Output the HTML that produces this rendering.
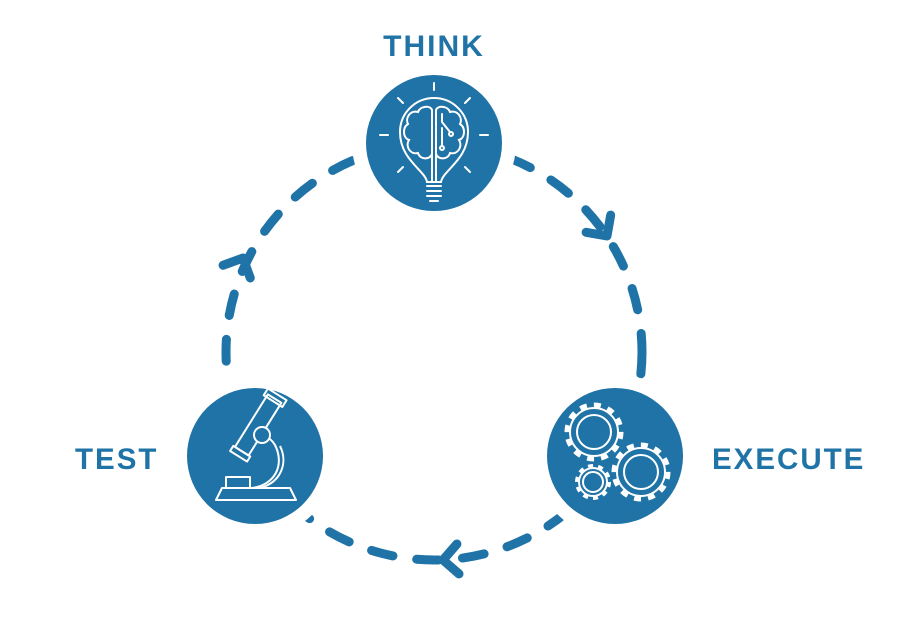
<!DOCTYPE html>
<html><head><meta charset="utf-8"><style>
html,body{margin:0;padding:0;background:#fff;}
svg{display:block}
text{font-family:"Liberation Sans",sans-serif;font-weight:bold;fill:#2073a6;letter-spacing:2px}
</style></head><body>
<svg width="909" height="619" viewBox="0 0 909 619" xmlns="http://www.w3.org/2000/svg">
<circle cx="434" cy="352" r="208" fill="none" stroke="#2073a6" stroke-width="9" stroke-linecap="round" stroke-dasharray="22 24"/>
<g fill="none" stroke="#2073a6" stroke-width="9" stroke-linecap="round" stroke-linejoin="round">
<polyline transform="translate(607,236) rotate(55)" points="-15,-15 0,0 -15,15"/>
<polyline transform="translate(443,560) rotate(176)" points="-15,-15 0,0 -15,15"/>
<polyline transform="translate(243,258) rotate(-65)" points="-15,-15 0,0 -15,15"/>
</g>
<g fill="#fff"><circle cx="434" cy="143" r="82"/><circle cx="255" cy="456" r="82"/><circle cx="615" cy="456" r="82"/></g>
<g fill="#2073a6"><circle cx="434" cy="143" r="68"/><circle cx="255" cy="456" r="68"/><circle cx="615" cy="456" r="68"/></g>
<g fill="none" stroke="#fff" stroke-width="2" stroke-linecap="round">
<line x1="434" y1="83" x2="434" y2="90"/><line x1="398" y1="98" x2="403" y2="103"/><line x1="470" y1="98" x2="465" y2="103"/>
<line x1="380" y1="135" x2="388" y2="135"/><line x1="480" y1="135" x2="488" y2="135"/>
<line x1="398" y1="172" x2="403" y2="167"/><line x1="470" y1="172" x2="465" y2="167"/>
<path d="M427,182 C425,170 400,160 400,132 A34,34 0 0 1 468,132 C468,160 443,170 441,182 Z"/>
<path d="M432,182 L432,110 C430,105 420,106 418,112 C410,110 405,118 408,124 C402,128 403,138 409,140 C405,146 410,155 418,153 C420,160 430,160 432,154"/>
<path d="M436,182 L436,110 C438,105 448,106 450,112 C458,110 463,118 460,124 C466,128 465,138 459,140 C463,146 458,155 450,153 C448,160 438,160 436,154"/>
<polyline points="442,114 442,122 450,132"/><circle cx="451" cy="134" r="2"/><line x1="442" y1="128" x2="442" y2="146"/><circle cx="442" cy="148" r="2"/>
<line x1="427" y1="186" x2="441" y2="186"/><line x1="427" y1="191" x2="441" y2="191"/><line x1="427" y1="196" x2="441" y2="196"/><line x1="430" y1="201" x2="438" y2="201"/>
</g>
<g fill="none" stroke="#fff" stroke-width="2" stroke-linejoin="round">
<polygon points="216,500 296,500 290,488 222,488"/>
<rect x="226" y="477" width="24" height="11"/>
<path d="M252,488 C275,485 285,465 275,445 C272,440 268,437 264,436"/>
<path d="M260,488 C282,482 288,462 280,446"/>
<g transform="rotate(32 255 430)"><rect x="247" y="393" width="16" height="62"/><rect x="244" y="388" width="22" height="8"/><rect x="245" y="455" width="20" height="6"/></g>
<circle cx="262" cy="435" r="8" fill="#2073a6"/>
</g>
<g fill="none" stroke="#fff" stroke-width="2">
<circle cx="594" cy="432" r="17"/><circle cx="594" cy="432" r="24"/><circle cx="594" cy="432" r="27" stroke-width="5" stroke-dasharray="7 7.1"/>
<circle cx="641" cy="472" r="17"/><circle cx="641" cy="472" r="24"/><circle cx="641" cy="472" r="27" stroke-width="5" stroke-dasharray="7 7.1"/>
<circle cx="593" cy="482" r="10"/><circle cx="593" cy="482" r="14"/><circle cx="593" cy="482" r="16" stroke-width="4" stroke-dasharray="5 5.05"/>
</g>
<text x="434" y="56" text-anchor="middle" font-size="30">THINK</text>
<text x="75" y="469" font-size="29.5" letter-spacing="1.5">TEST</text>
<text x="712" y="469" font-size="29.5" letter-spacing="1">EXECUTE</text>
</svg>
</body></html>
